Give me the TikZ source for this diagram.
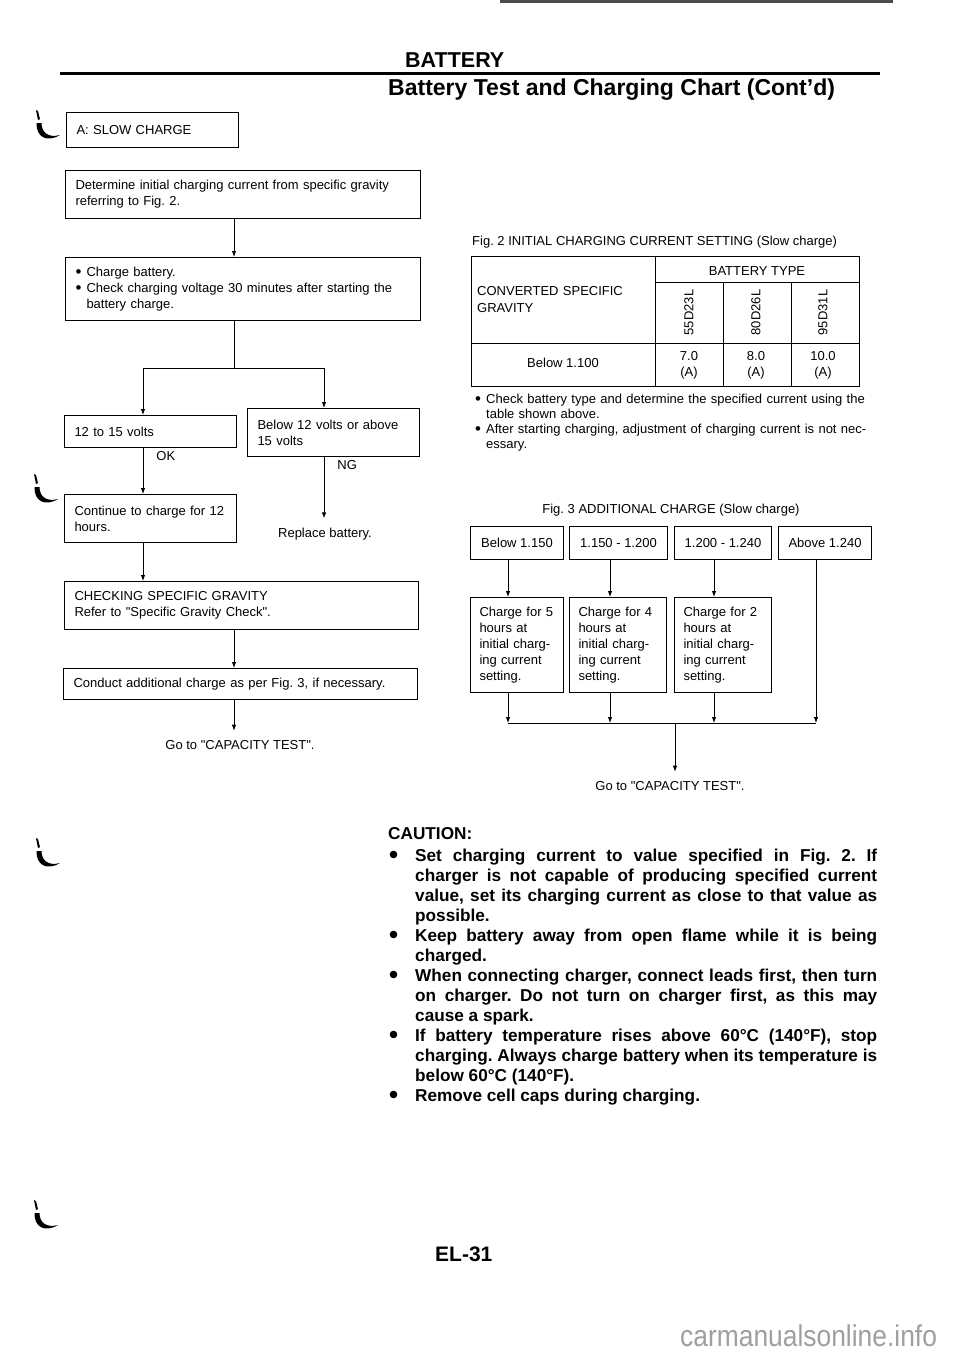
\documentclass[tikz,border=0pt]{standalone}
\usepackage{fontspec}
\setmainfont{Liberation Sans}
\usepackage{graphicx}
\usetikzlibrary{arrows.meta,positioning}
\tolerance=9999
\hbadness=10000
\frenchspacing

\newcommand{\flowfont}{\fontsize{13}{16}\selectfont}
\newcommand{\itembul}{\makebox[11pt][l]{\raisebox{-1pt}{\scalebox{1.3}{\textbullet}}}}
\newcommand{\cautbul}{\llap{\makebox[26pt][l]{\raisebox{-2.2pt}{\scalebox{1.5}{\textbullet}}}}}
\newcommand{\qt}{\textquotedbl}

\begin{document}
\begin{tikzpicture}[x=1pt,y=-1pt,>={Latex[length=6pt,width=4.5pt]},
		box/.style 2 args={draw,line width=1pt,anchor=north west,align=left,inner xsep=10pt,inner ysep=0pt,font=\flowfont,text width=#1,minimum height=#2},
		rangebox/.style={draw,line width=1pt,anchor=north west,inner sep=0pt,font=\flowfont,minimum width=#1,minimum height=33pt},
		flow/.style={->,line width=0.9pt},
		lbl/.style={inner sep=0pt,font=\flowfont},
		endtext/.style={inner xsep=0pt,inner ysep=9pt,font=\flowfont,anchor=base},
		caution/.style={anchor=base west,text width=462pt,align=justify,inner sep=0pt,font=\fontsize{17.2}{20}\selectfont\bfseries},
		bindhook/.pic={
			\fill (1,0) -- (3,1) -- (5,9) -- (3,10) -- cycle;
			\fill (1.5,13) .. controls (1,27) and (12,33) .. (25,25) .. controls (14,28) and (6.5,23) .. (6.5,13) -- cycle;}]
		\fill[white] (0,0) rectangle (960,1358);
		\useasboundingbox (0,0) rectangle (960,1358);

		% page head
		\draw[line width=2.5pt,gray!60!black] (500,1.5) -- (893,1.5);
		\node[lbl,anchor=base west,font=\fontsize{21.5}{24}\selectfont\bfseries] (sect) at (405,67) {BATTERY};
		\draw[line width=3pt] (60,73.5) -- (880,73.5);
		\node[lbl,anchor=base west,font=\fontsize{23}{26}\selectfont\bfseries] (title) at (388,95) {Battery Test and Charging Chart (Cont’d)};

		\pic at (35,110) {bindhook};
		\pic at (33,474) {bindhook};
		\pic at (35,838) {bindhook};
		\pic at (33,1200) {bindhook};

		% slow charge flow
		\node[box={152pt}{35pt}] (slow) at (66,112) {A: SLOW CHARGE};
		\node[box={335pt}{48pt}] (det) at (65,170) {Determine initial charging current from specific gravity\\referring to Fig. 2.};
		\node[box={335pt}{63pt}] (chg) at (65,257) {\itembul Charge battery.\\\itembul Check charging voltage 30 minutes after starting the\\\hspace*{11pt}battery charge.};
		\node[box={152pt}{32pt}] (volt) at (64,415) {12 to 15 volts};
		\node[box={152pt}{48pt}] (out) at (247,408) {Below 12 volts or above\\15 volts};
		\node[box={152pt}{48pt}] (cont) at (64,494) {Continue to charge for 12\\hours.};
		\node[endtext] (repl) at (325,537) {Replace battery.};
		\node[box={334pt}{48pt}] (grav) at (64,581) {CHECKING SPECIFIC GRAVITY\\Refer to \qt Specific Gravity Check\qt.};
		\node[box={334pt}{31pt}] (addl) at (63,668) {Conduct additional charge as per Fig. 3, if necessary.};
		\node[endtext] (go1) at (240,749) {Go to \qt CAPACITY TEST\qt.};

		\coordinate (colL) at (143,0);
		\coordinate (colM) at (234,0);
		\coordinate (colR) at (324,0);
		\coordinate (split) at (234,368);

		\draw[flow] (det.south -| colM) -- (chg.north -| colM);
		\draw[line width=0.9pt] (chg.south -| colM) -- (split);
		\draw[flow] (split) -| (volt.north -| colL);
		\draw[flow] (split) -| (out.north -| colR);
		\draw[flow] (volt.south -| colL) -- node[lbl,pos=0.17,right=13pt] {OK} (cont.north -| colL);
		\draw[flow] (out.south -| colR) -- node[lbl,pos=0.135,right=13pt] {NG} (repl.north -| colR);
		\draw[flow] (cont.south -| colL) -- (grav.north -| colL);
		\draw[flow] (grav.south -| colM) -- (addl.north -| colM);
		\draw[flow] (addl.south -| colM) -- (go1.north -| colM);

		% Fig. 2 table
		\node[lbl,anchor=base west] (fig2) at (472,245) {Fig. 2 INITIAL CHARGING CURRENT SETTING (Slow charge)};
		\draw[line width=1pt] (471,256) rectangle (859,386);
		\draw[line width=1pt] (655,256) -- (655,386)
			(655,282) -- (859,282)
			(471,343) -- (859,343)
			(723,282) -- (723,386)
			(791,282) -- (791,386);
		\node[lbl,anchor=base] (btype) at (757,275) {BATTERY TYPE};
		\node[lbl,anchor=base west,text width=170pt,align=left,font=\fontsize{13}{17}\selectfont] (csg) at (477,295) {CONVERTED SPECIFIC\\GRAVITY};
		\node[lbl,rotate=90] (t55) at (689,312.5) {55D23L};
		\node[lbl,rotate=90] (t80) at (756,312.5) {80D26L};
		\node[lbl,rotate=90] (t95) at (823,312.5) {95D31L};
		\node[lbl,anchor=base] (b110) at (563,367) {Below 1.100};
		\node[lbl,anchor=base,text width=40pt,align=center] (a55) at (689,360) {7.0\\(A)};
		\node[lbl,anchor=base,text width=40pt,align=center] (a80) at (756,360) {8.0\\(A)};
		\node[lbl,anchor=base,text width=40pt,align=center] (a95) at (823,360) {10.0\\(A)};
		\node[lbl,anchor=base west,text width=420pt,align=left,font=\fontsize{13}{15}\selectfont] (note1) at (475,403) {\itembul Check battery type and determine the specified current using the\\\hspace*{11pt}table shown above.};
		\node[lbl,anchor=base west,text width=420pt,align=left,font=\fontsize{13}{15}\selectfont] (note2) at (475,433) {\itembul After starting charging, adjustment of charging current is not nec-\\\hspace*{11pt}essary.};

		% Fig. 3 additional charge
		\node[lbl,anchor=base] (fig3) at (671,513) {Fig. 3 ADDITIONAL CHARGE (Slow charge)};
		\node[rangebox=93pt] (r1) at (470,526) {Below 1.150};
		\node[rangebox=98pt] (r2) at (569,526) {1.150 - 1.200};
		\node[rangebox=97pt] (r3) at (674,526) {1.200 - 1.240};
		\node[rangebox=93pt] (r4) at (778,526) {Above 1.240};
		\node[box={75pt}{95pt},inner xsep=9pt] (h1) at (470,597) {Charge for 5\\hours at\\initial charg-\\ing current\\setting.};
		\node[box={79pt}{95pt},inner xsep=9pt] (h2) at (569,597) {Charge for 4\\hours at\\initial charg-\\ing current\\setting.};
		\node[box={79pt}{95pt},inner xsep=9pt] (h3) at (674,597) {Charge for 2\\hours at\\initial charg-\\ing current\\setting.};
		\node[endtext] (go2) at (670,790) {Go to \qt CAPACITY TEST\qt.};

		\coordinate (ca) at (508,0);
		\coordinate (cb) at (610,0);
		\coordinate (cc) at (714,0);
		\coordinate (cd) at (816,0);
		\coordinate (join) at (675,723);

		\draw[flow] (r1.south -| ca) -- (h1.north -| ca);
		\draw[flow] (r2.south -| cb) -- (h2.north -| cb);
		\draw[flow] (r3.south -| cc) -- (h3.north -| cc);
		\draw[flow] (h1.south -| ca) -- (ca |- join);
		\draw[flow] (h2.south -| cb) -- (cb |- join);
		\draw[flow] (h3.south -| cc) -- (cc |- join);
		\draw[flow] (r4.south -| cd) -- (cd |- join);
		\draw[line width=0.9pt] (ca |- join) -- (cd |- join);
		\draw[flow] (join) -- (go2.north -| join);

		% caution
		\node[lbl,anchor=base west,font=\fontsize{17.2}{20}\selectfont\bfseries] (caut) at (388,839) {CAUTION:};
		\node[caution] (cau1) at (415,861) {\cautbul Set charging current to value specified in Fig. 2. If\linebreak charger is not capable of producing specified current\linebreak value, set its charging current as close to that value as\linebreak possible.};
		\node[caution] (cau2) at (415,941) {\cautbul Keep battery away from open flame while it is being\linebreak charged.};
		\node[caution] (cau3) at (415,981) {\cautbul When connecting charger, connect leads first, then turn\linebreak on charger. Do not turn on charger first, as this may\linebreak cause a spark.};
		\node[caution] (cau4) at (415,1041) {\cautbul If battery temperature rises above 60°C (140°F), stop\linebreak charging. Always charge battery when its temperature is\linebreak below 60°C (140°F).};
		\node[caution] (cau5) at (415,1101) {\cautbul Remove cell caps during charging.};

		% page foot
		\node[lbl,anchor=base west,font=\fontsize{21}{24}\selectfont\bfseries] (page) at (435,1261) {EL-31};
		\node[lbl,anchor=base west,text=gray!75] (wm) at (680,1346) {\scalebox{0.88}[1]{\fontsize{30}{30}\selectfont carmanualsonline.info}};
\end{tikzpicture}
\end{document}
